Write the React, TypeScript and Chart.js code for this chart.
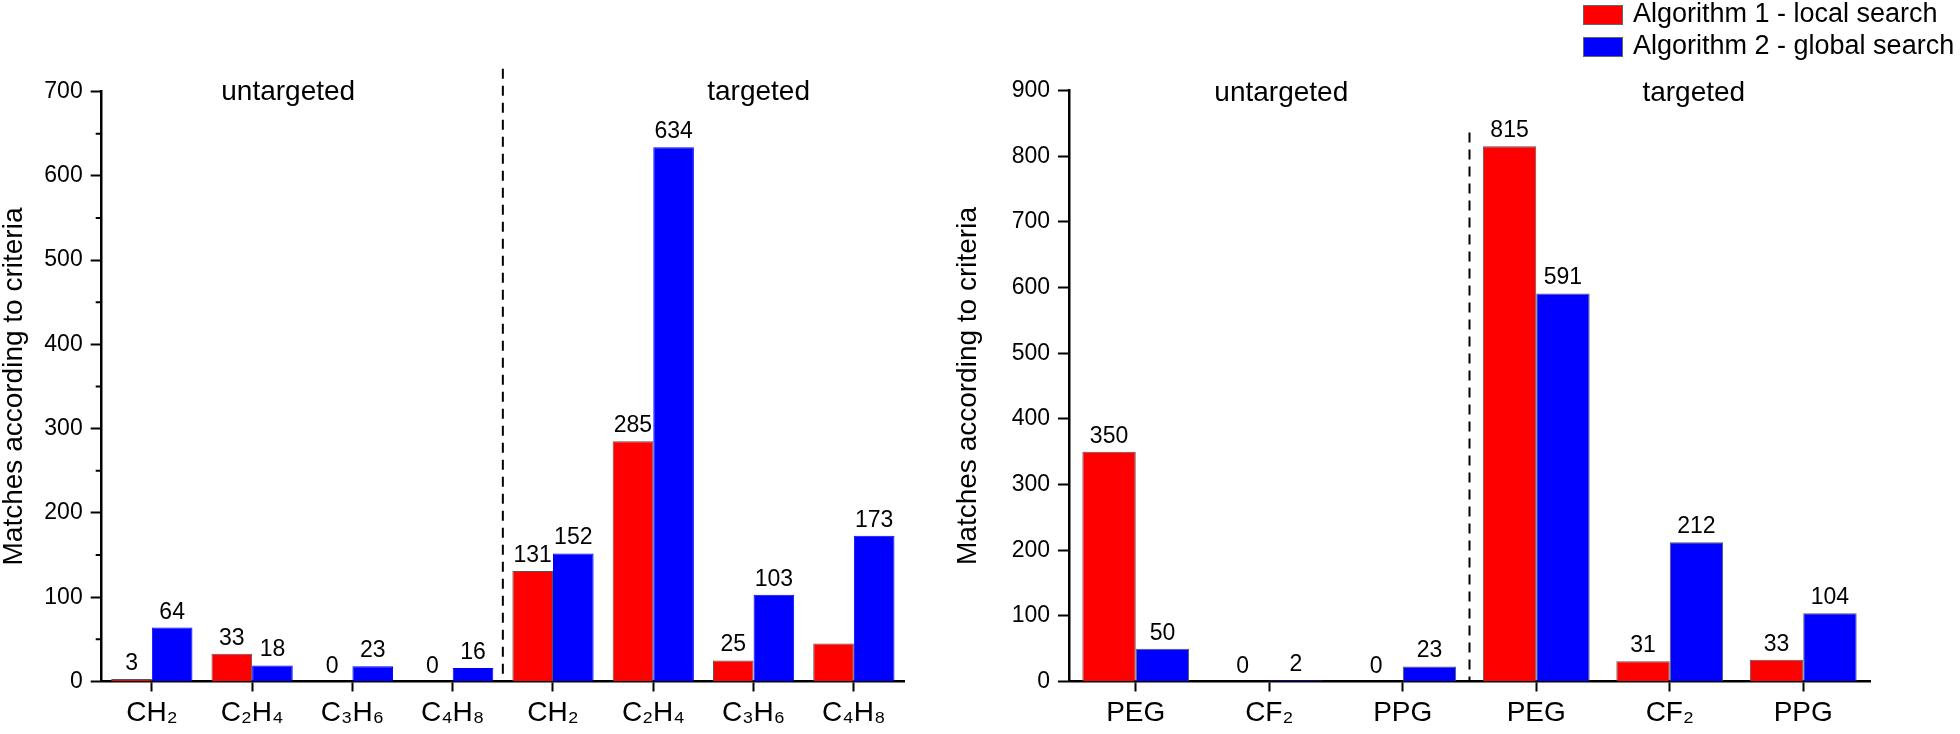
import React, { useEffect, useRef } from 'react';
import { Chart, registerables } from 'chart.js';

Chart.register(...registerables);

const FONT = '"Liberation Sans", Arial, Helvetica, sans-serif';

// ---- data ----
const seriesNames = ['Algorithm 1 - local search', 'Algorithm 2 - global search'];
const seriesColors = ['#ff0000', '#0000ff'];
const groupNames = ['untargeted', 'targeted'];
const yTitle = 'Matches according to criteria';

const leftCategories = ['CH₂', 'C₂H₄', 'C₃H₆', 'C₄H₈', 'CH₂', 'C₂H₄', 'C₃H₆', 'C₄H₈'];
const leftLocal = [3, 33, 0, 0, 131, 285, 25, 45];
const leftGlobal = [64, 19, 18, 16, 152, 634, 103, 173];
const leftLocalLabels = ['3', '33', '0', '0', '131', '285', '25', ''];
const leftGlobalLabels = ['64', '18', '23', '16', '152', '634', '103', '173'];
const leftYMax = 700;
const leftYStep = 100;

const rightCategories = ['PEG', 'CF₂', 'PPG', 'PEG', 'CF₂', 'PPG'];
const rightLocal = [350, 0, 0, 815, 31, 33];
const rightGlobal = [50, 2, 23, 591, 212, 104];
const rightLocalLabels = ['350', '0', '0', '815', '31', '33'];
const rightGlobalLabels = ['50', '2', '23', '591', '212', '104'];
const rightYMax = 900;
const rightYStep = 100;

// ---- plugins ----
const annotatePlugin = {
  id: 'annotate',
  afterDatasetsDraw(chart: any, _args: any, opts: any) {
    const { ctx, scales, chartArea } = chart;
    const x = scales.x;
    const y = scales.y;
    ctx.save();
    // divider
    const dx = x.getPixelForValue(opts.divider);
    ctx.setLineDash([10, 7]);
    ctx.lineWidth = 2;
    ctx.strokeStyle = '#000';
    ctx.beginPath();
    ctx.moveTo(dx, y.getPixelForValue(opts.dividerTop));
    ctx.lineTo(dx, y.getPixelForValue(0));
    ctx.stroke();
    ctx.setLineDash([]);
    // group labels
    ctx.fillStyle = '#000';
    ctx.textAlign = 'center';
    ctx.textBaseline = 'alphabetic';
    ctx.font = `28px ${FONT}`;
    opts.groups.forEach((g: any) => {
      ctx.fillText(g.text, x.getPixelForValue(g.at), y.getPixelForValue(opts.groupY));
    });
    // value labels
    ctx.font = `23px ${FONT}`;
    chart.data.datasets.forEach((_ds: any, di: number) => {
      const meta = chart.getDatasetMeta(di);
      meta.data.forEach((bar: any, i: number) => {
        const t = opts.valueLabels[di][i];
        if (!t) return;
        ctx.fillText(t, bar.x, bar.y - 9);
      });
    });
    // minor ticks
    if (opts.minorStep) {
      ctx.lineWidth = 2;
      ctx.beginPath();
      for (let v = opts.minorStep / 2; v < y.max; v += opts.minorStep) {
        const py = y.getPixelForValue(v);
        ctx.moveTo(chartArea.left - 6, py);
        ctx.lineTo(chartArea.left, py);
      }
      ctx.stroke();
    }
    ctx.restore();
  },
};

const boxLegendPlugin = {
  id: 'boxLegend',
  afterDraw(chart: any, _args: any, opts: any) {
    if (!opts.display) return;
    const { ctx, chartArea } = chart;
    ctx.save();
    ctx.font = `27px ${FONT}`;
    ctx.textAlign = 'left';
    ctx.textBaseline = 'middle';
    const bx = chartArea.right - 287;
    chart.data.datasets.forEach((ds: any, i: number) => {
      const by = 5 + i * 32;
      ctx.fillStyle = ds.backgroundColor;
      ctx.fillRect(bx, by, 40, 20);
      ctx.strokeStyle = '#666';
      ctx.lineWidth = 1;
      ctx.strokeRect(bx + 0.5, by + 0.5, 39, 19);
      ctx.fillStyle = '#000';
      ctx.fillText(ds.label, bx + 50, by + 10);
    });
    ctx.restore();
  },
};

function makeConfig(p: any) {
  return {
    type: 'bar',
    data: {
      labels: p.categories,
      datasets: [
        {
          label: seriesNames[0],
          data: p.local,
          backgroundColor: seriesColors[0],
          borderColor: '#555',
          borderWidth: (c: any) => (c.raw === 0 ? 0 : 1),
          categoryPercentage: p.catPct,
          barPercentage: 1,
        },
        {
          label: seriesNames[1],
          data: p.global,
          backgroundColor: seriesColors[1],
          borderColor: p.blueBorder,
          borderWidth: (c: any) => (c.raw === 0 ? 0 : 1),
          categoryPercentage: p.catPct,
          barPercentage: 1,
        },
      ],
    },
    options: {
      responsive: false,
      animation: false,
      devicePixelRatio: 1,
      layout: { padding: { top: p.padTop, right: p.padRight, left: 0, bottom: 0 } },
      plugins: {
        legend: { display: false },
        tooltip: { enabled: false },
        annotate: {
          divider: p.divider,
          dividerTop: p.dividerTop,
          groups: [
            { text: groupNames[0], at: p.groupAt[0] },
            { text: groupNames[1], at: p.groupAt[1] },
          ],
          groupY: p.groupY,
          valueLabels: p.valueLabels,
          minorStep: p.minorStep,
        },
        boxLegend: { display: p.legend },
      },
      scales: {
        x: {
          offset: true,
          grid: {
            display: true,
            drawOnChartArea: false,
            offset: false,
            tickLength: 10,
            tickWidth: 2,
            tickColor: '#000',
          },
          border: { display: true, color: '#000', width: 2.5 },
          ticks: {
            color: '#000',
            font: { size: 28, family: FONT },
            padding: 5,
            maxRotation: 0,
            autoSkip: false,
          },
          afterFit: (s: any) => {
            s.height = 52.5;
          },
        },
        y: {
          min: 0,
          max: p.yMax,
          ticks: {
            stepSize: p.yStep,
            color: '#000',
            font: { size: 23, family: FONT },
            padding: 8,
          },
          grid: {
            display: true,
            drawOnChartArea: false,
            tickLength: 11,
            tickWidth: 2,
            tickColor: '#000',
          },
          border: { display: true, color: '#000', width: 2.5 },
          title: {
            display: true,
            text: yTitle,
            color: '#000',
            font: { size: 28, family: FONT, lineHeight: 1 },
            padding: 0,
          },
          afterFit: (s: any) => {
            s.width = p.yWidth;
          },
        },
      },
    },
    plugins: [annotatePlugin, boxLegendPlugin],
  };
}

function BarPanel(props: { cfg: any; width: number; height: number; left: number }) {
  const ref = useRef<HTMLCanvasElement | null>(null);
  useEffect(() => {
    if (!ref.current) return;
    const chart = new Chart(ref.current, props.cfg);
    return () => chart.destroy();
  }, []);
  return (
    <canvas
      ref={ref}
      width={props.width}
      height={props.height}
      style={{ position: 'absolute', left: props.left, top: 0, width: props.width, height: props.height }}
    />
  );
}

export default function App() {
  const leftCfg = makeConfig({
    categories: leftCategories,
    local: leftLocal,
    global: leftGlobal,
    valueLabels: [leftLocalLabels, leftGlobalLabels],
    yMax: leftYMax,
    yStep: leftYStep,
    catPct: 0.81,
    blueBorder: '#0000ff',
    padTop: 91.5,
    padRight: 50,
    yWidth: 101.7,
    divider: 3.5,
    dividerTop: 727,
    groupAt: [1.36, 6.05],
    groupY: 690,
    minorStep: 100,
    legend: false,
  });
  const rightCfg = makeConfig({
    categories: rightCategories,
    local: rightLocal,
    global: rightGlobal,
    valueLabels: [rightLocalLabels, rightGlobalLabels],
    yMax: rightYMax,
    yStep: rightYStep,
    catPct: 0.8,
    blueBorder: '#555',
    padTop: 90.5,
    padRight: 90,
    yWidth: 115,
    divider: 2.5,
    dividerTop: 836,
    groupAt: [1.09, 4.18],
    groupY: 884,
    minorStep: 0,
    legend: true,
  });
  return (
    <div style={{ position: 'absolute', left: 0, top: 0, width: 1960, height: 734, background: '#fff', overflow: 'hidden' }}>
      <BarPanel cfg={leftCfg} width={954} height={734} left={0} />
      <BarPanel cfg={rightCfg} width={1006} height={734} left={954} />
    </div>
  );
}
